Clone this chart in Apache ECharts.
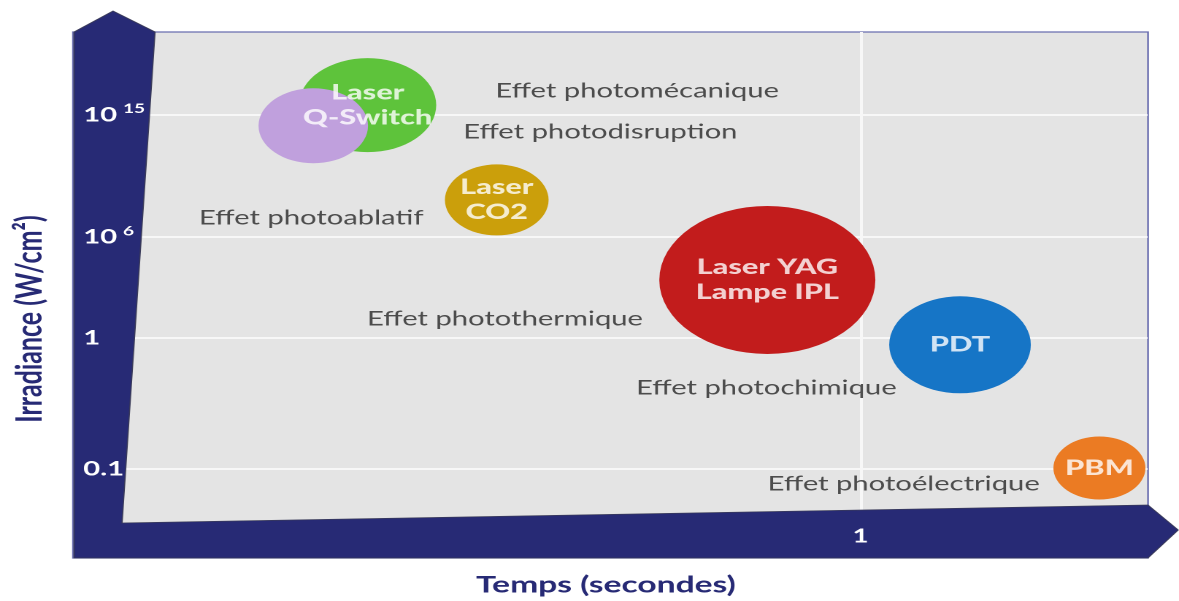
<!DOCTYPE html>
<html>
<head>
<meta charset="utf-8">
<script src="https://cdn.jsdelivr.net/npm/echarts@6/dist/echarts.min.js"></script>
<style>
html,body{margin:0;padding:0;background:#fff;overflow:hidden;}
#chart{width:808px;height:601px;transform:scaleX(1.46);transform-origin:0 0;}
</style>
</head>
<body>
<div id="chart"></div>
<script>
// ---- data (abstract axis units 0..100) ----
const xTickValues = [72.0];
const xTickLabels = ['1'];
const yTickValues = [11.0, 37.7, 58.2, 83.1];
const yTickLabels = ['0.1', '1', '10^6', '10^15'];

const bubbleNames  = ['Laser Q-Switch', 'Bulle violette', 'Laser CO2', 'Laser YAG / Lampe IPL', 'PDT', 'PBM'];
const bubbleLabels = ['Laser\nQ-Switch', '', 'Laser\nCO2', 'Laser YAG\nLampe IPL', 'PDT', 'PBM'];
const bubbleX      = [23.9, 18.6, 36.5, 62.9, 81.7, 95.3];
const bubbleY      = [85.1, 80.9, 65.8, 49.5, 36.3, 11.2];
const bubbleSize   = [94, 75, 71, 148, 97, 63];

const effectNames = ['Effet photomécanique', 'Effet photodisruption', 'Effet photoablatif',
                     'Effet photothermique', 'Effet photochimique', 'Effet photoélectrique'];
const effectX = [50.2, 46.6, 18.4, 37.3, 62.8, 76.2];
const effectY = [88.0, 79.6, 62.1, 41.5, 27.5, 7.9];

// ---- styles ----
const NAVY = '#272a75';
const bubbleColors = ['#5ec33b', '#c0a0dd', '#cb9f0b', '#c21c1c', '#1675c6', '#eb7b23'];
const FONT = 'Lato';

function nearestLabel(v, vals, labels) {
  let best = 0;
  for (let i = 1; i < vals.length; i++) if (Math.abs(vals[i] - v) < Math.abs(vals[best] - v)) best = i;
  return labels[best];
}

const chart = echarts.init(document.getElementById('chart'), null, {renderer: 'canvas', devicePixelRatio: 2});

const option = {
  animation: false,
  backgroundColor: '#ffffff',
  grid: {left: 84, right: 22, top: 32, bottom: 78, containLabel: false},
  xAxis: [
    {type: 'value', min: 0, max: 100, z: 0,
     axisLine: {show: false}, axisTick: {show: false, customValues: xTickValues},
     axisLabel: {show: false},
     splitLine: {show: true, lineStyle: {color: '#f7f7f7', width: 2}}},
    {type: 'value', min: 0, max: 100, z: 10, position: 'bottom',
     axisLine: {show: false}, axisTick: {show: false, customValues: xTickValues},
     splitLine: {show: false},
     axisLabel: {show: true, customValues: xTickValues, margin: 4, color: '#ffffff',
                 fontFamily: FONT, fontSize: 19, fontWeight: 'bold',
                 formatter: v => nearestLabel(v, xTickValues, xTickLabels)}}
  ],
  yAxis: [
    {type: 'value', min: 0, max: 100, z: 0, position: 'left',
     axisLine: {show: false}, axisTick: {show: false, customValues: yTickValues},
     axisLabel: {show: false},
     splitLine: {show: true, lineStyle: {color: '#f7f7f7', width: 2}}},
    {type: 'value', min: 0, max: 100, z: 10, position: 'left', offset: 0,
     axisLine: {show: false}, axisTick: {show: false, customValues: yTickValues},
     splitLine: {show: false},
     axisLabel: {show: true, customValues: yTickValues, align: 'left', margin: 27,
                 color: '#ffffff', fontFamily: FONT, fontSize: 19, fontWeight: 'bold',
                 formatter: v => {
                   const t = nearestLabel(v, yTickValues, yTickLabels);
                   if (t.indexOf('^') >= 0) {
                     const p = t.split('^');
                     return '{b|' + p[0] + '}{s|' + p[1] + '}';
                   }
                   return '{b|' + t + '}';
                 },
                 rich: {
                   b: {color: '#fff', fontFamily: FONT, fontSize: 20, fontWeight: 'bold'},
                   s: {color: '#fff', fontFamily: FONT, fontSize: 13, fontWeight: 'bold', padding: [0, 0, 12, 4]}
                 }}}
  ],
  graphic: [
    {type: 'rect', z: -10, silent: true,
     shape: {x: 50, y: 32, width: 736.3, height: 526},
     style: {fill: '#e4e4e4', stroke: '#6a6eb0', lineWidth: 1.2}},
    {type: 'polygon', z: 1, silent: true,
     shape: {points: [[50.7, 558], [50.7, 32], [77.4, 11], [106.2, 32], [83.6, 523],
                      [786.3, 505], [807, 530], [786.3, 558]]},
     style: {fill: NAVY, stroke: '#3b3c5a', lineWidth: 0.8}},
    {type: 'text', z: 20, silent: true, x: 415, y: 585,
     style: {text: 'Temps (secondes)', fontFamily: FONT, fontSize: 23, fontWeight: 'bold',
             fill: NAVY, align: 'center', verticalAlign: 'middle'}},
    {type: 'text', z: 20, silent: true, x: 20.5, y: 319, rotation: Math.PI / 2,
     style: {text: 'Irradiance (W/cm²)', fontFamily: FONT, fontSize: 25, fontWeight: 'bold',
             fill: NAVY, align: 'center', verticalAlign: 'middle'}}
  ],
  series: [
    {
      name: 'Bulles', type: 'scatter', z: 5, xAxisIndex: 0, yAxisIndex: 0,
      symbol: 'circle',
      symbolSize: (val) => val[2],
      data: bubbleX.map((x, i) => ({
        name: bubbleNames[i],
        value: [x, bubbleY[i], bubbleSize[i]],
        itemStyle: {color: bubbleColors[i], opacity: 1}
      })),
      label: {show: false},
      emphasis: {disabled: true}
    },
    {
      name: 'Étiquettes', type: 'scatter', z: 6, xAxisIndex: 0, yAxisIndex: 0,
      symbolSize: 1,
      itemStyle: {color: 'rgba(0,0,0,0)'},
      data: bubbleX.map((x, i) => ({name: bubbleNames[i], value: [x, bubbleY[i]], label: {formatter: bubbleLabels[i]}})),
      label: {show: true, position: 'inside', color: '#ffffff', fontFamily: FONT,
              fontSize: 21, fontWeight: 900, lineHeight: 25, align: 'center', verticalAlign: 'middle'},
      emphasis: {disabled: true}
    },
    {
      name: 'Effets', type: 'scatter', z: 6, xAxisIndex: 0, yAxisIndex: 0,
      symbolSize: 1,
      itemStyle: {color: 'rgba(0,0,0,0)'},
      data: effectX.map((x, i) => ({name: effectNames[i], value: [x, effectY[i]]})),
      label: {show: true, position: 'inside', formatter: '{b}', color: '#252525',
              fontFamily: FONT, fontSize: 20, align: 'center', verticalAlign: 'middle'},
      emphasis: {disabled: true}
    }
  ]
};
chart.setOption(option);
</script>
</body>
</html>
